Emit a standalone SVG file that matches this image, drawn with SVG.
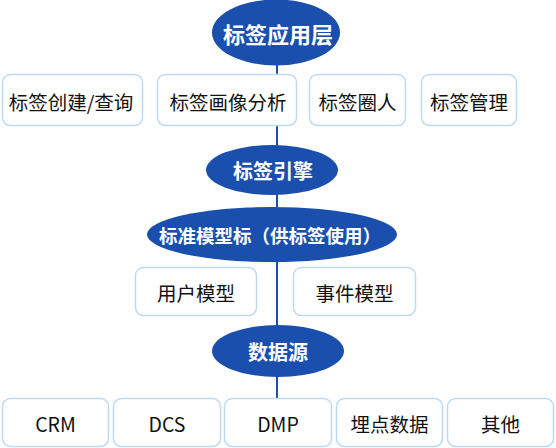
<svg xmlns="http://www.w3.org/2000/svg" width="556" height="448" viewBox="0 0 556 448">
<style>
.ell{fill:#1b4fae}
.box{fill:#ffffff;stroke:#bcdaf3;stroke-width:1.5}
.et{font-family:"Noto Sans CJK SC","Noto Sans",sans-serif;font-weight:bold;fill:#ffffff;text-anchor:middle;dominant-baseline:central}
.bt{font-family:"Noto Sans CJK SC","Noto Sans",sans-serif;font-size:19.5px;fill:#111111;text-anchor:middle;dominant-baseline:central}
.ln{stroke:#1b4fae;stroke-width:2;fill:none}
</style>
<rect width="556" height="448" fill="#ffffff"/>
<g id="connectors">
<line class="ln" x1="277" y1="62" x2="277" y2="76"/>
<line class="ln" x1="277" y1="125" x2="277" y2="147"/>
<line class="ln" x1="277" y1="193" x2="277" y2="209"/>
<line class="ln" x1="277" y1="260" x2="277" y2="327"/>
<line class="ln" x1="277" y1="375" x2="277" y2="399"/>
</g>
<g id="app-layer"><ellipse class="ell" cx="276" cy="32.5" rx="64" ry="33"/><text class="et" x="278" y="32.5" font-size="22">标签应用层</text></g>
<g id="tag-create"><rect class="box" x="2.5" y="74.5" width="140" height="51" rx="8"/><text class="bt" x="71" y="101">标签创建/查询</text></g>
<g id="tag-portrait"><rect class="box" x="157.5" y="74.5" width="139" height="51" rx="8"/><text class="bt" x="228" y="101">标签画像分析</text></g>
<g id="tag-circle"><rect class="box" x="309.5" y="74.5" width="96" height="51" rx="8"/><text class="bt" x="357.5" y="101">标签圈人</text></g>
<g id="tag-manage"><rect class="box" x="421.5" y="74.5" width="95" height="51" rx="8"/><text class="bt" x="469" y="101">标签管理</text></g>
<g id="tag-engine"><ellipse class="ell" cx="272" cy="170" rx="66" ry="25"/><text class="et" x="273" y="170" font-size="20">标签引擎</text></g>
<g id="std-model"><ellipse class="ell" cx="272" cy="234.5" rx="125" ry="27.5"/><text class="et" x="270" y="234.5" font-size="18.5">标准模型标（供标签使用）</text></g>
<g id="user-model"><rect class="box" x="135.5" y="267.5" width="121" height="48" rx="8"/><text class="bt" x="196" y="292">用户模型</text></g>
<g id="event-model"><rect class="box" x="293.5" y="267.5" width="122" height="48" rx="8"/><text class="bt" x="354.5" y="292">事件模型</text></g>
<g id="data-source"><ellipse class="ell" cx="278" cy="351" rx="66" ry="26"/><text class="et" x="278" y="351" font-size="20">数据源</text></g>
<g id="crm"><rect class="box" x="2.5" y="398.5" width="106" height="48" rx="8"/><text class="bt" x="55.5" y="423">CRM</text></g>
<g id="dcs"><rect class="box" x="113.5" y="398.5" width="107" height="48" rx="8"/><text class="bt" x="167" y="423">DCS</text></g>
<g id="dmp"><rect class="box" x="224.5" y="398.5" width="107" height="48" rx="8"/><text class="bt" x="278" y="423">DMP</text></g>
<g id="tracking"><rect class="box" x="336.5" y="398.5" width="106" height="48" rx="8"/><text class="bt" x="389.5" y="423">埋点数据</text></g>
<g id="other"><rect class="box" x="447.5" y="398.5" width="106" height="48" rx="8"/><text class="bt" x="500.5" y="423">其他</text></g>
</svg>
